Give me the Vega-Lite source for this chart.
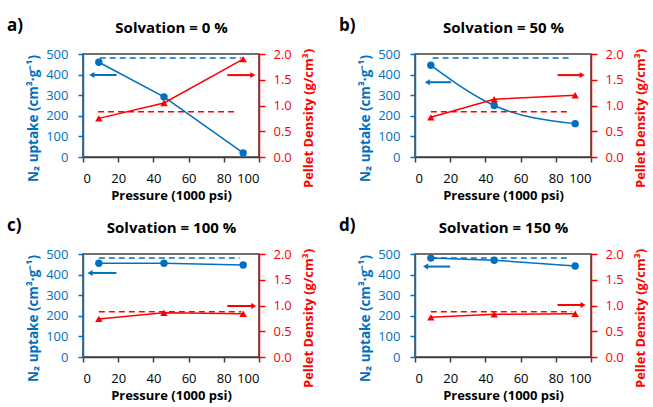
{
  "$schema": "https://vega.github.io/schema/vega-lite/v6.json",
  "padding": {"left": 6, "top": 16, "right": 2, "bottom": 0},
  "background": "white",
  "config": {
    "font": "Open Sans",
    "view": {"stroke": "#404040", "strokeWidth": 1.5},
    "axis": {"grid": false, "tickSize": 5, "tickWidth": 1.5, "domainWidth": 1.5, "labelFontSize": 13, "titleFontSize": 13.5, "titleFontWeight": "bold", "labelColor": "black", "titleColor": "black", "domainColor": "#404040", "tickColor": "#404040"},
    "axisBottom": {"titleFontSize": 13, "labelPadding": 10, "titlePadding": 4},
    "axisTop": {"labels": false, "ticks": false, "domain": false, "titleFontSize": 15, "titleColor": "black", "titlePadding": 19},
    "axisLeft": {"domainColor": "#0070C0", "tickColor": "#0070C0", "labelColor": "#0070C0", "titleColor": "#0070C0", "labelPadding": 10, "titleX": -50, "titleY": 64, "titleAngle": 270, "titleAlign": "center", "titleBaseline": "middle"},
    "axisRight": {"format": ".1f", "titleFontSize": 13, "domainColor": "#FF0000", "tickColor": "#FF0000", "labelColor": "#FF0000", "titleColor": "#FF0000", "tickSize": 6, "labelPadding": 8, "titleX": 49, "titleY": 64, "titleAngle": 270, "titleAlign": "center", "titleBaseline": "middle"},
    "title": {"fontSize": 17, "fontWeight": "bold", "color": "black", "offset": -15, "anchor": "start", "frame": "group", "dx": -76}
  },
  "datasets": {
    "d": [
      {"p": "a", "k": "bl", "x": 9, "y": 460}, {"p": "a", "k": "bl", "x": 46, "y": 292}, {"p": "a", "k": "bl", "x": 91, "y": 20},
      {"p": "a", "k": "rl", "x": 9, "y": 0.75}, {"p": "a", "k": "rl", "x": 46, "y": 1.05}, {"p": "a", "k": "rl", "x": 91, "y": 1.9},
      {"p": "a", "k": "br", "x": 9.5, "x2": 90, "y": 480}, {"p": "a", "k": "rr", "x": 8.5, "x2": 88, "y": 0.88},
      {"p": "a", "k": "ba", "x": 19, "x2": 6, "y": 398}, {"p": "a", "k": "bh", "x": 5, "y": 398},
      {"p": "a", "k": "ra", "x": 82, "x2": 95.5, "y": 1.59}, {"p": "a", "k": "rh", "x": 96.5, "y": 1.59},

      {"p": "b", "k": "bl", "x": 9, "y": 445}, {"p": "b", "k": "bl", "x": 45, "y": 250}, {"p": "b", "k": "bl", "x": 91, "y": 162},
      {"p": "b", "k": "rl", "x": 9, "y": 0.77}, {"p": "b", "k": "rl", "x": 45, "y": 1.12}, {"p": "b", "k": "rl", "x": 91, "y": 1.2},
      {"p": "b", "k": "br", "x": 10, "x2": 88, "y": 480}, {"p": "b", "k": "rr", "x": 9, "x2": 88, "y": 0.88},
      {"p": "b", "k": "ba", "x": 20.5, "x2": 8, "y": 363}, {"p": "b", "k": "bh", "x": 7, "y": 363},
      {"p": "b", "k": "ra", "x": 81, "x2": 94, "y": 1.59}, {"p": "b", "k": "rh", "x": 95, "y": 1.59},

      {"p": "c", "k": "bl", "x": 9, "y": 455}, {"p": "c", "k": "bl", "x": 46, "y": 455}, {"p": "c", "k": "bl", "x": 91, "y": 447},
      {"p": "c", "k": "rl", "x": 9, "y": 0.74}, {"p": "c", "k": "rl", "x": 46, "y": 0.86}, {"p": "c", "k": "rl", "x": 91, "y": 0.84},
      {"p": "c", "k": "br", "x": 9, "x2": 89, "y": 480}, {"p": "c", "k": "rr", "x": 9, "x2": 90, "y": 0.88},
      {"p": "c", "k": "ba", "x": 19, "x2": 5, "y": 408}, {"p": "c", "k": "bh", "x": 4, "y": 408},
      {"p": "c", "k": "ra", "x": 82, "x2": 96, "y": 0.99}, {"p": "c", "k": "rh", "x": 97, "y": 0.99},

      {"p": "d", "k": "bl", "x": 9, "y": 480}, {"p": "d", "k": "bl", "x": 45, "y": 470}, {"p": "d", "k": "bl", "x": 91, "y": 442},
      {"p": "d", "k": "rl", "x": 9, "y": 0.77}, {"p": "d", "k": "rl", "x": 45, "y": 0.83}, {"p": "d", "k": "rl", "x": 91, "y": 0.84},
      {"p": "d", "k": "br", "x": 9, "x2": 88, "y": 480}, {"p": "d", "k": "rr", "x": 9, "x2": 89, "y": 0.88},
      {"p": "d", "k": "ba", "x": 20, "x2": 7, "y": 439}, {"p": "d", "k": "bh", "x": 6, "y": 439},
      {"p": "d", "k": "ra", "x": 81, "x2": 94.5, "y": 1.01}, {"p": "d", "k": "rh", "x": 95.5, "y": 1.01}
    ]
  },
  "data": {"name": "d"},
  "bounds": "flush",
  "columns": 2,
  "spacing": {"row": 97, "column": 156},
  "concat": [
      {
        "width": 176, "height": 103,
        "title": {"text": "a)"},
        "layer": [
          {
            "encoding": {
              "x": {"field": "x", "type": "quantitative", "scale": {"domain": [0, 100]}, "axis": {"orient": "bottom", "values": [0, 20, 40, 60, 80, 100], "title": "Pressure (1000 psi)"}},
              "y": {"field": "y", "type": "quantitative", "scale": {"domain": [0, 500]}, "axis": {"orient": "left", "values": [0, 100, 200, 300, 400, 500], "title": "N₂ uptake (cm³·g⁻¹)"}}
            },
            "layer": [
              {"transform": [{"filter": "datum.p=='a' && datum.k=='bl'"}], "mark": {"type": "line", "color": "#0070C0", "strokeWidth": 1.5}},
              {"transform": [{"filter": "datum.p=='a' && datum.k=='bl'"}], "mark": {"type": "point", "shape": "circle", "filled": true, "size": 55, "color": "#0070C0", "opacity": 1}},
              {"transform": [{"filter": "datum.p=='a' && datum.k=='br'"}], "mark": {"type": "rule", "color": "#0070C0", "strokeWidth": 1.5, "strokeDash": [6, 4]}, "encoding": {"x2": {"field": "x2"}}},
              {"transform": [{"filter": "datum.p=='a' && datum.k=='ba'"}], "mark": {"type": "rule", "color": "#0070C0", "strokeWidth": 2}, "encoding": {"x2": {"field": "x2"}}},
              {"transform": [{"filter": "datum.p=='a' && datum.k=='bh'"}], "mark": {"type": "point", "shape": "triangle-left", "filled": true, "size": 35, "color": "#0070C0", "opacity": 1}}
            ]
          },
          {
            "encoding": {
              "x": {"field": "x", "type": "quantitative", "scale": {"domain": [0, 100]}, "axis": {"orient": "top", "title": "Solvation = 0 %"}},
              "y": {"field": "y", "type": "quantitative", "scale": {"domain": [0, 2]}, "axis": {"orient": "right", "values": [0, 0.5, 1, 1.5, 2], "title": "Pellet Density (g/cm³)"}}
            },
            "layer": [
              {"transform": [{"filter": "datum.p=='a' && datum.k=='rl'"}], "mark": {"type": "line", "color": "#FF0000", "strokeWidth": 1.5}},
              {"transform": [{"filter": "datum.p=='a' && datum.k=='rl'"}], "mark": {"type": "point", "shape": "triangle-up", "filled": true, "size": 55, "color": "#FF0000", "opacity": 1}},
              {"transform": [{"filter": "datum.p=='a' && datum.k=='rr'"}], "mark": {"type": "rule", "color": "#FF0000", "strokeWidth": 1.5, "strokeDash": [6, 4]}, "encoding": {"x2": {"field": "x2"}}},
              {"transform": [{"filter": "datum.p=='a' && datum.k=='ra'"}], "mark": {"type": "rule", "color": "#FF0000", "strokeWidth": 2}, "encoding": {"x2": {"field": "x2"}}},
              {"transform": [{"filter": "datum.p=='a' && datum.k=='rh'"}], "mark": {"type": "point", "shape": "triangle-right", "filled": true, "size": 35, "color": "#FF0000", "opacity": 1}}
            ]
          }
        ],
        "resolve": {"scale": {"y": "independent"}, "axis": {"x": "independent"}}
      },
      {
        "width": 176, "height": 103,
        "title": {"text": "b)"},
        "layer": [
          {
            "encoding": {
              "x": {"field": "x", "type": "quantitative", "scale": {"domain": [0, 100]}, "axis": {"orient": "bottom", "values": [0, 20, 40, 60, 80, 100], "title": "Pressure (1000 psi)"}},
              "y": {"field": "y", "type": "quantitative", "scale": {"domain": [0, 500]}, "axis": {"orient": "left", "values": [0, 100, 200, 300, 400, 500], "title": "N₂ uptake (cm³·g⁻¹)"}}
            },
            "layer": [
              {"transform": [{"filter": "datum.p=='b' && datum.k=='bl'"}], "mark": {"type": "line", "color": "#0070C0", "strokeWidth": 1.5, "interpolate": "monotone"}},
              {"transform": [{"filter": "datum.p=='b' && datum.k=='bl'"}], "mark": {"type": "point", "shape": "circle", "filled": true, "size": 55, "color": "#0070C0", "opacity": 1}},
              {"transform": [{"filter": "datum.p=='b' && datum.k=='br'"}], "mark": {"type": "rule", "color": "#0070C0", "strokeWidth": 1.5, "strokeDash": [6, 4]}, "encoding": {"x2": {"field": "x2"}}},
              {"transform": [{"filter": "datum.p=='b' && datum.k=='ba'"}], "mark": {"type": "rule", "color": "#0070C0", "strokeWidth": 2}, "encoding": {"x2": {"field": "x2"}}},
              {"transform": [{"filter": "datum.p=='b' && datum.k=='bh'"}], "mark": {"type": "point", "shape": "triangle-left", "filled": true, "size": 35, "color": "#0070C0", "opacity": 1}}
            ]
          },
          {
            "encoding": {
              "x": {"field": "x", "type": "quantitative", "scale": {"domain": [0, 100]}, "axis": {"orient": "top", "title": "Solvation = 50 %"}},
              "y": {"field": "y", "type": "quantitative", "scale": {"domain": [0, 2]}, "axis": {"orient": "right", "values": [0, 0.5, 1, 1.5, 2], "title": "Pellet Density (g/cm³)"}}
            },
            "layer": [
              {"transform": [{"filter": "datum.p=='b' && datum.k=='rl'"}], "mark": {"type": "line", "color": "#FF0000", "strokeWidth": 1.5}},
              {"transform": [{"filter": "datum.p=='b' && datum.k=='rl'"}], "mark": {"type": "point", "shape": "triangle-up", "filled": true, "size": 55, "color": "#FF0000", "opacity": 1}},
              {"transform": [{"filter": "datum.p=='b' && datum.k=='rr'"}], "mark": {"type": "rule", "color": "#FF0000", "strokeWidth": 1.5, "strokeDash": [6, 4]}, "encoding": {"x2": {"field": "x2"}}},
              {"transform": [{"filter": "datum.p=='b' && datum.k=='ra'"}], "mark": {"type": "rule", "color": "#FF0000", "strokeWidth": 2}, "encoding": {"x2": {"field": "x2"}}},
              {"transform": [{"filter": "datum.p=='b' && datum.k=='rh'"}], "mark": {"type": "point", "shape": "triangle-right", "filled": true, "size": 35, "color": "#FF0000", "opacity": 1}}
            ]
          }
        ],
        "resolve": {"scale": {"y": "independent"}, "axis": {"x": "independent"}}
      },
      {
        "width": 176, "height": 103,
        "title": {"text": "c)"},
        "layer": [
          {
            "encoding": {
              "x": {"field": "x", "type": "quantitative", "scale": {"domain": [0, 100]}, "axis": {"orient": "bottom", "values": [0, 20, 40, 60, 80, 100], "title": "Pressure (1000 psi)"}},
              "y": {"field": "y", "type": "quantitative", "scale": {"domain": [0, 500]}, "axis": {"orient": "left", "values": [0, 100, 200, 300, 400, 500], "title": "N₂ uptake (cm³·g⁻¹)"}}
            },
            "layer": [
              {"transform": [{"filter": "datum.p=='c' && datum.k=='bl'"}], "mark": {"type": "line", "color": "#0070C0", "strokeWidth": 1.5}},
              {"transform": [{"filter": "datum.p=='c' && datum.k=='bl'"}], "mark": {"type": "point", "shape": "circle", "filled": true, "size": 55, "color": "#0070C0", "opacity": 1}},
              {"transform": [{"filter": "datum.p=='c' && datum.k=='br'"}], "mark": {"type": "rule", "color": "#0070C0", "strokeWidth": 1.5, "strokeDash": [6, 4]}, "encoding": {"x2": {"field": "x2"}}},
              {"transform": [{"filter": "datum.p=='c' && datum.k=='ba'"}], "mark": {"type": "rule", "color": "#0070C0", "strokeWidth": 2}, "encoding": {"x2": {"field": "x2"}}},
              {"transform": [{"filter": "datum.p=='c' && datum.k=='bh'"}], "mark": {"type": "point", "shape": "triangle-left", "filled": true, "size": 35, "color": "#0070C0", "opacity": 1}}
            ]
          },
          {
            "encoding": {
              "x": {"field": "x", "type": "quantitative", "scale": {"domain": [0, 100]}, "axis": {"orient": "top", "title": "Solvation = 100 %"}},
              "y": {"field": "y", "type": "quantitative", "scale": {"domain": [0, 2]}, "axis": {"orient": "right", "values": [0, 0.5, 1, 1.5, 2], "title": "Pellet Density (g/cm³)"}}
            },
            "layer": [
              {"transform": [{"filter": "datum.p=='c' && datum.k=='rl'"}], "mark": {"type": "line", "color": "#FF0000", "strokeWidth": 1.5}},
              {"transform": [{"filter": "datum.p=='c' && datum.k=='rl'"}], "mark": {"type": "point", "shape": "triangle-up", "filled": true, "size": 55, "color": "#FF0000", "opacity": 1}},
              {"transform": [{"filter": "datum.p=='c' && datum.k=='rr'"}], "mark": {"type": "rule", "color": "#FF0000", "strokeWidth": 1.5, "strokeDash": [6, 4]}, "encoding": {"x2": {"field": "x2"}}},
              {"transform": [{"filter": "datum.p=='c' && datum.k=='ra'"}], "mark": {"type": "rule", "color": "#FF0000", "strokeWidth": 2}, "encoding": {"x2": {"field": "x2"}}},
              {"transform": [{"filter": "datum.p=='c' && datum.k=='rh'"}], "mark": {"type": "point", "shape": "triangle-right", "filled": true, "size": 35, "color": "#FF0000", "opacity": 1}}
            ]
          }
        ],
        "resolve": {"scale": {"y": "independent"}, "axis": {"x": "independent"}}
      },
      {
        "width": 176, "height": 103,
        "title": {"text": "d)"},
        "layer": [
          {
            "encoding": {
              "x": {"field": "x", "type": "quantitative", "scale": {"domain": [0, 100]}, "axis": {"orient": "bottom", "values": [0, 20, 40, 60, 80, 100], "title": "Pressure (1000 psi)"}},
              "y": {"field": "y", "type": "quantitative", "scale": {"domain": [0, 500]}, "axis": {"orient": "left", "values": [0, 100, 200, 300, 400, 500], "title": "N₂ uptake (cm³·g⁻¹)"}}
            },
            "layer": [
              {"transform": [{"filter": "datum.p=='d' && datum.k=='bl'"}], "mark": {"type": "line", "color": "#0070C0", "strokeWidth": 1.5}},
              {"transform": [{"filter": "datum.p=='d' && datum.k=='bl'"}], "mark": {"type": "point", "shape": "circle", "filled": true, "size": 55, "color": "#0070C0", "opacity": 1}},
              {"transform": [{"filter": "datum.p=='d' && datum.k=='br'"}], "mark": {"type": "rule", "color": "#0070C0", "strokeWidth": 1.5, "strokeDash": [6, 4]}, "encoding": {"x2": {"field": "x2"}}},
              {"transform": [{"filter": "datum.p=='d' && datum.k=='ba'"}], "mark": {"type": "rule", "color": "#0070C0", "strokeWidth": 2}, "encoding": {"x2": {"field": "x2"}}},
              {"transform": [{"filter": "datum.p=='d' && datum.k=='bh'"}], "mark": {"type": "point", "shape": "triangle-left", "filled": true, "size": 35, "color": "#0070C0", "opacity": 1}}
            ]
          },
          {
            "encoding": {
              "x": {"field": "x", "type": "quantitative", "scale": {"domain": [0, 100]}, "axis": {"orient": "top", "title": "Solvation = 150 %"}},
              "y": {"field": "y", "type": "quantitative", "scale": {"domain": [0, 2]}, "axis": {"orient": "right", "values": [0, 0.5, 1, 1.5, 2], "title": "Pellet Density (g/cm³)"}}
            },
            "layer": [
              {"transform": [{"filter": "datum.p=='d' && datum.k=='rl'"}], "mark": {"type": "line", "color": "#FF0000", "strokeWidth": 1.5}},
              {"transform": [{"filter": "datum.p=='d' && datum.k=='rl'"}], "mark": {"type": "point", "shape": "triangle-up", "filled": true, "size": 55, "color": "#FF0000", "opacity": 1}},
              {"transform": [{"filter": "datum.p=='d' && datum.k=='rr'"}], "mark": {"type": "rule", "color": "#FF0000", "strokeWidth": 1.5, "strokeDash": [6, 4]}, "encoding": {"x2": {"field": "x2"}}},
              {"transform": [{"filter": "datum.p=='d' && datum.k=='ra'"}], "mark": {"type": "rule", "color": "#FF0000", "strokeWidth": 2}, "encoding": {"x2": {"field": "x2"}}},
              {"transform": [{"filter": "datum.p=='d' && datum.k=='rh'"}], "mark": {"type": "point", "shape": "triangle-right", "filled": true, "size": 35, "color": "#FF0000", "opacity": 1}}
            ]
          }
        ],
        "resolve": {"scale": {"y": "independent"}, "axis": {"x": "independent"}}
      }
  ]
}
